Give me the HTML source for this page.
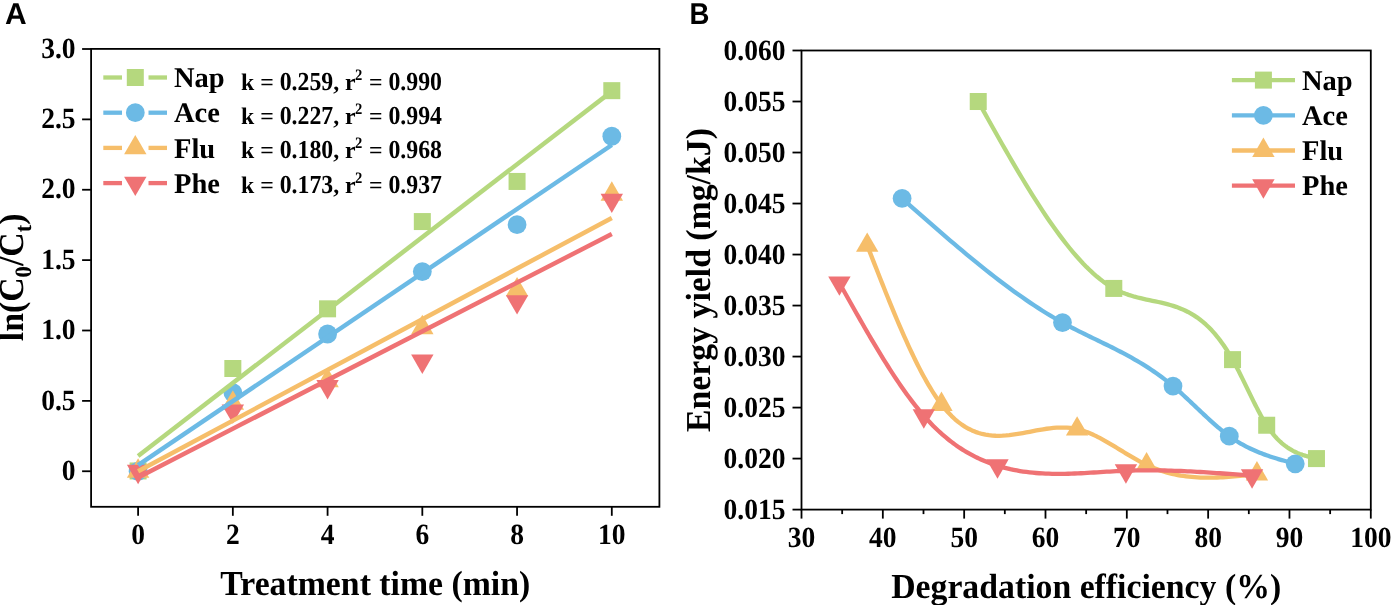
<!DOCTYPE html>
<html><head><meta charset="utf-8"><style>
html,body{margin:0;padding:0;background:#fff;}
svg{display:block;will-change:transform;}
text{text-rendering:geometricPrecision;}
</style></head><body>
<svg width="1391" height="605" viewBox="0 0 1391 605">
<rect width="1391" height="605" fill="#fff"/>
<text x="5" y="23.8" style="font-family:'Liberation Sans',sans-serif;font-weight:bold;font-size:30px">A</text>
<text transform="translate(689.5 23.8) scale(0.92 1)" style="font-family:'Liberation Sans',sans-serif;font-weight:bold;font-size:30px">B</text>
<rect x="129.60" y="462.47" width="17" height="17" fill="#B5D87E"/>
<rect x="224.34" y="360.00" width="17" height="17" fill="#B5D87E"/>
<rect x="319.08" y="300.32" width="17" height="17" fill="#B5D87E"/>
<rect x="413.82" y="213.06" width="17" height="17" fill="#B5D87E"/>
<rect x="508.56" y="172.95" width="17" height="17" fill="#B5D87E"/>
<rect x="603.30" y="82.16" width="17" height="17" fill="#B5D87E"/>
<circle cx="138.10" cy="471.25" r="9.4" fill="#6CBAE5"/>
<circle cx="232.84" cy="392.57" r="9.4" fill="#6CBAE5"/>
<circle cx="327.58" cy="334.02" r="9.4" fill="#6CBAE5"/>
<circle cx="422.32" cy="271.53" r="9.4" fill="#6CBAE5"/>
<circle cx="517.06" cy="224.66" r="9.4" fill="#6CBAE5"/>
<circle cx="611.80" cy="136.27" r="9.4" fill="#6CBAE5"/>
<path d="M138.10 458.32L149.30 477.72L126.90 477.72Z" fill="#F6BE6A"/>
<path d="M232.84 390.33L244.04 409.73L221.64 409.73Z" fill="#F6BE6A"/>
<path d="M327.58 367.81L338.78 387.21L316.38 387.21Z" fill="#F6BE6A"/>
<path d="M422.32 314.75L433.52 334.15L411.12 334.15Z" fill="#F6BE6A"/>
<path d="M517.06 276.89L528.26 296.29L505.86 296.29Z" fill="#F6BE6A"/>
<path d="M611.80 181.32L623.00 200.72L600.60 200.72Z" fill="#F6BE6A"/>
<path d="M126.90 464.78L149.30 464.78L138.10 484.18Z" fill="#EF7274"/>
<path d="M221.64 404.40L244.04 404.40L232.84 423.80Z" fill="#EF7274"/>
<path d="M316.38 380.05L338.78 380.05L327.58 399.45Z" fill="#EF7274"/>
<path d="M411.12 354.58L433.52 354.58L422.32 373.98Z" fill="#EF7274"/>
<path d="M505.86 295.18L528.26 295.18L517.06 314.58Z" fill="#EF7274"/>
<path d="M600.60 193.70L623.00 193.70L611.80 213.10Z" fill="#EF7274"/>
<line x1="138.10" y1="455.91" x2="611.80" y2="91.37" stroke="#B5D87E" stroke-width="4.5"/>
<line x1="138.10" y1="465.20" x2="611.80" y2="144.99" stroke="#6CBAE5" stroke-width="4.5"/>
<line x1="138.10" y1="471.25" x2="611.80" y2="217.90" stroke="#F6BE6A" stroke-width="4.5"/>
<line x1="138.10" y1="477.44" x2="611.80" y2="233.95" stroke="#EF7274" stroke-width="4.5"/>
<g style="font-family:'Liberation Serif',serif;font-weight:bold;font-size:28.5px"><rect x="91.1" y="48.9" width="568.30" height="457.90" fill="none" stroke="#000" stroke-width="1.8"/>
<line x1="138.10" y1="506.8" x2="138.10" y2="515.8" stroke="#000" stroke-width="1.8"/>
<text transform="translate(138.10 543.9) scale(0.965 1.03)" text-anchor="middle">0</text>
<line x1="232.84" y1="506.8" x2="232.84" y2="515.8" stroke="#000" stroke-width="1.8"/>
<text transform="translate(232.84 543.9) scale(0.965 1.03)" text-anchor="middle">2</text>
<line x1="327.58" y1="506.8" x2="327.58" y2="515.8" stroke="#000" stroke-width="1.8"/>
<text transform="translate(327.58 543.9) scale(0.965 1.03)" text-anchor="middle">4</text>
<line x1="422.32" y1="506.8" x2="422.32" y2="515.8" stroke="#000" stroke-width="1.8"/>
<text transform="translate(422.32 543.9) scale(0.965 1.03)" text-anchor="middle">6</text>
<line x1="517.06" y1="506.8" x2="517.06" y2="515.8" stroke="#000" stroke-width="1.8"/>
<text transform="translate(517.06 543.9) scale(0.965 1.03)" text-anchor="middle">8</text>
<line x1="611.80" y1="506.8" x2="611.80" y2="515.8" stroke="#000" stroke-width="1.8"/>
<text transform="translate(611.80 543.9) scale(0.965 1.03)" text-anchor="middle">10</text>
<line x1="82.1" y1="471.25" x2="91.1" y2="471.25" stroke="#000" stroke-width="1.8"/>
<text transform="translate(75.6 479.95) scale(0.965 1.03)" text-anchor="end">0</text>
<line x1="82.1" y1="400.88" x2="91.1" y2="400.88" stroke="#000" stroke-width="1.8"/>
<text transform="translate(75.6 409.57) scale(0.965 1.03)" text-anchor="end">0.5</text>
<line x1="82.1" y1="330.50" x2="91.1" y2="330.50" stroke="#000" stroke-width="1.8"/>
<text transform="translate(75.6 339.20) scale(0.965 1.03)" text-anchor="end">1.0</text>
<line x1="82.1" y1="260.12" x2="91.1" y2="260.12" stroke="#000" stroke-width="1.8"/>
<text transform="translate(75.6 268.82) scale(0.965 1.03)" text-anchor="end">1.5</text>
<line x1="82.1" y1="189.75" x2="91.1" y2="189.75" stroke="#000" stroke-width="1.8"/>
<text transform="translate(75.6 198.45) scale(0.965 1.03)" text-anchor="end">2.0</text>
<line x1="82.1" y1="119.38" x2="91.1" y2="119.38" stroke="#000" stroke-width="1.8"/>
<text transform="translate(75.6 128.07) scale(0.965 1.03)" text-anchor="end">2.5</text>
<line x1="82.1" y1="49.00" x2="91.1" y2="49.00" stroke="#000" stroke-width="1.8"/>
<text transform="translate(75.6 57.70) scale(0.965 1.03)" text-anchor="end">3.0</text></g>
<text transform="translate(375.25 595.0) scale(0.993 1.03)" text-anchor="middle" style="font-family:'Liberation Serif',serif;font-weight:bold;font-size:34px">Treatment time (min)</text>
<text transform="translate(23.1 277.35) rotate(-90) scale(0.993 1.03)" text-anchor="middle" style="font-family:'Liberation Serif',serif;font-weight:bold;font-size:34px">ln(C<tspan dy="7.5" font-size="22.8">0</tspan><tspan dy="-7.5">/C</tspan><tspan dy="7.5" font-size="22.8">t</tspan><tspan dy="-7.5">)</tspan></text>
<line x1="103.3" y1="77.5" x2="122" y2="77.5" stroke="#B5D87E" stroke-width="4.3"/>
<line x1="148.5" y1="77.5" x2="167" y2="77.5" stroke="#B5D87E" stroke-width="4.3"/>
<rect x="126.80" y="69.00" width="17" height="17" fill="#B5D87E"/>
<text x="174" y="87.20" style="font-family:'Liberation Serif',serif;font-weight:bold;font-size:28.5px">Nap</text>
<g style="font-family:'Liberation Serif',serif;font-weight:bold;font-size:23.8px"><text x="241" y="89.9">k =</text><text transform="translate(279.69 89.9) scale(1 1.09)">0.259</text><text x="333.23" y="89.9">, r</text><text transform="translate(354.9 79.9) scale(1 1.09)" font-size="14.6">2</text><text x="368.94" y="89.9">=</text><text transform="translate(388.45 89.9) scale(1 1.09)">0.990</text></g>
<line x1="103.3" y1="112.7" x2="122" y2="112.7" stroke="#6CBAE5" stroke-width="4.3"/>
<line x1="148.5" y1="112.7" x2="167" y2="112.7" stroke="#6CBAE5" stroke-width="4.3"/>
<circle cx="135.30" cy="112.70" r="9.4" fill="#6CBAE5"/>
<text x="174" y="122.40" style="font-family:'Liberation Serif',serif;font-weight:bold;font-size:28.5px">Ace</text>
<g style="font-family:'Liberation Serif',serif;font-weight:bold;font-size:23.8px"><text x="241" y="123.5">k =</text><text transform="translate(279.69 123.5) scale(1 1.09)">0.227</text><text x="333.23" y="123.5">, r</text><text transform="translate(354.9 113.5) scale(1 1.09)" font-size="14.6">2</text><text x="368.94" y="123.5">=</text><text transform="translate(388.45 123.5) scale(1 1.09)">0.994</text></g>
<line x1="103.3" y1="147.9" x2="122" y2="147.9" stroke="#F6BE6A" stroke-width="4.3"/>
<line x1="148.5" y1="147.9" x2="167" y2="147.9" stroke="#F6BE6A" stroke-width="4.3"/>
<path d="M135.30 134.97L146.50 154.37L124.10 154.37Z" fill="#F6BE6A"/>
<text x="174" y="157.60" style="font-family:'Liberation Serif',serif;font-weight:bold;font-size:28.5px">Flu</text>
<g style="font-family:'Liberation Serif',serif;font-weight:bold;font-size:23.8px"><text x="241" y="158.3">k =</text><text transform="translate(279.69 158.3) scale(1 1.09)">0.180</text><text x="333.23" y="158.3">, r</text><text transform="translate(354.9 148.3) scale(1 1.09)" font-size="14.6">2</text><text x="368.94" y="158.3">=</text><text transform="translate(388.45 158.3) scale(1 1.09)">0.968</text></g>
<line x1="103.3" y1="183.1" x2="122" y2="183.1" stroke="#EF7274" stroke-width="4.3"/>
<line x1="148.5" y1="183.1" x2="167" y2="183.1" stroke="#EF7274" stroke-width="4.3"/>
<path d="M124.10 176.63L146.50 176.63L135.30 196.03Z" fill="#EF7274"/>
<text x="174" y="192.80" style="font-family:'Liberation Serif',serif;font-weight:bold;font-size:28.5px">Phe</text>
<g style="font-family:'Liberation Serif',serif;font-weight:bold;font-size:23.8px"><text x="241" y="192.8">k =</text><text transform="translate(279.69 192.8) scale(1 1.09)">0.173</text><text x="333.23" y="192.8">, r</text><text transform="translate(354.9 182.8) scale(1 1.09)" font-size="14.6">2</text><text x="368.94" y="192.8">=</text><text transform="translate(388.45 192.8) scale(1 1.09)">0.937</text></g>
<path d="M978.23 101.51 L981.62 107.58 L985.01 113.65 L988.40 119.70 L991.78 125.74 L995.17 131.76 L998.56 137.75 L1001.95 143.71 L1005.34 149.64 L1008.73 155.52 L1012.12 161.35 L1015.51 167.13 L1018.90 172.86 L1022.29 178.52 L1025.68 184.11 L1029.07 189.63 L1032.46 195.07 L1035.85 200.43 L1039.24 205.70 L1042.62 210.87 L1046.01 215.95 L1049.40 220.92 L1052.79 225.77 L1056.18 230.52 L1059.57 235.14 L1062.96 239.64 L1066.35 244.00 L1069.74 248.23 L1073.13 252.32 L1076.52 256.26 L1079.91 260.05 L1083.30 263.68 L1086.69 267.15 L1090.08 270.45 L1093.47 273.58 L1096.85 276.53 L1100.24 279.29 L1103.63 281.87 L1107.02 284.25 L1110.41 286.44 L1113.80 288.42 L1116.77 289.98 L1119.74 291.39 L1122.71 292.67 L1125.68 293.83 L1128.64 294.88 L1131.61 295.82 L1134.58 296.69 L1137.55 297.48 L1140.52 298.21 L1143.49 298.89 L1146.46 299.53 L1149.42 300.16 L1152.39 300.77 L1155.36 301.39 L1158.33 302.02 L1161.30 302.68 L1164.27 303.38 L1167.23 304.14 L1170.20 304.96 L1173.17 305.85 L1176.14 306.84 L1179.11 307.93 L1182.08 309.14 L1185.05 310.48 L1188.01 311.96 L1190.98 313.59 L1193.95 315.39 L1196.92 317.36 L1199.89 319.53 L1202.86 321.90 L1205.82 324.49 L1208.79 327.31 L1211.76 330.37 L1214.73 333.69 L1217.70 337.27 L1220.67 341.13 L1223.64 345.29 L1226.60 349.74 L1229.57 354.52 L1232.54 359.63 L1233.40 361.16 L1234.25 362.72 L1235.10 364.30 L1235.96 365.91 L1236.81 367.54 L1237.67 369.18 L1238.52 370.85 L1239.37 372.53 L1240.23 374.23 L1241.08 375.94 L1241.93 377.67 L1242.79 379.40 L1243.64 381.14 L1244.50 382.89 L1245.35 384.64 L1246.20 386.40 L1247.06 388.16 L1247.91 389.92 L1248.77 391.67 L1249.62 393.43 L1250.47 395.18 L1251.33 396.92 L1252.18 398.65 L1253.04 400.37 L1253.89 402.09 L1254.74 403.78 L1255.60 405.47 L1256.45 407.13 L1257.31 408.78 L1258.16 410.41 L1259.01 412.02 L1259.87 413.60 L1260.72 415.16 L1261.58 416.69 L1262.43 418.19 L1263.28 419.67 L1264.14 421.11 L1264.99 422.52 L1265.85 423.89 L1266.70 425.23 L1267.98 427.15 L1269.25 429.00 L1270.53 430.76 L1271.80 432.44 L1273.08 434.05 L1274.36 435.58 L1275.63 437.04 L1276.91 438.43 L1278.19 439.75 L1279.46 441.00 L1280.74 442.19 L1282.01 443.32 L1283.29 444.39 L1284.57 445.40 L1285.84 446.36 L1287.12 447.27 L1288.40 448.12 L1289.67 448.93 L1290.95 449.69 L1292.22 450.41 L1293.50 451.08 L1294.78 451.71 L1296.05 452.31 L1297.33 452.88 L1298.61 453.40 L1299.88 453.90 L1301.16 454.37 L1302.43 454.82 L1303.71 455.24 L1304.99 455.64 L1306.26 456.01 L1307.54 456.37 L1308.82 456.72 L1310.09 457.05 L1311.37 457.37 L1312.64 457.68 L1313.92 457.99 L1315.20 458.29 L1316.47 458.59" fill="none" stroke="#B5D87E" stroke-width="4.3" stroke-linejoin="round"/>
<rect x="969.73" y="93.01" width="17" height="17" fill="#B5D87E"/>
<rect x="1105.30" y="279.92" width="17" height="17" fill="#B5D87E"/>
<rect x="1224.04" y="351.13" width="17" height="17" fill="#B5D87E"/>
<rect x="1258.20" y="416.73" width="17" height="17" fill="#B5D87E"/>
<rect x="1307.97" y="450.09" width="17" height="17" fill="#B5D87E"/>
<path d="M902.10 198.43 L906.11 201.98 L910.12 205.52 L914.13 209.06 L918.14 212.60 L922.15 216.13 L926.16 219.65 L930.17 223.16 L934.18 226.66 L938.19 230.15 L942.20 233.62 L946.21 237.07 L950.22 240.51 L954.23 243.92 L958.24 247.32 L962.25 250.69 L966.26 254.04 L970.26 257.36 L974.27 260.65 L978.28 263.91 L982.29 267.14 L986.30 270.34 L990.31 273.50 L994.32 276.63 L998.33 279.72 L1002.34 282.77 L1006.35 285.77 L1010.36 288.74 L1014.37 291.66 L1018.38 294.53 L1022.39 297.36 L1026.40 300.13 L1030.41 302.85 L1034.42 305.52 L1038.43 308.14 L1042.44 310.70 L1046.45 313.20 L1050.45 315.64 L1054.46 318.02 L1058.47 320.34 L1062.48 322.59 L1065.25 324.11 L1068.01 325.59 L1070.77 327.05 L1073.54 328.49 L1076.30 329.90 L1079.06 331.30 L1081.83 332.68 L1084.59 334.04 L1087.35 335.40 L1090.11 336.75 L1092.88 338.09 L1095.64 339.43 L1098.40 340.76 L1101.17 342.10 L1103.93 343.45 L1106.69 344.80 L1109.46 346.16 L1112.22 347.53 L1114.98 348.92 L1117.75 350.32 L1120.51 351.75 L1123.27 353.20 L1126.04 354.67 L1128.80 356.17 L1131.56 357.70 L1134.32 359.27 L1137.09 360.86 L1139.85 362.50 L1142.61 364.18 L1145.38 365.90 L1148.14 367.67 L1150.90 369.48 L1153.67 371.35 L1156.43 373.27 L1159.19 375.24 L1161.96 377.28 L1164.72 379.37 L1167.48 381.53 L1170.25 383.76 L1173.01 386.05 L1174.42 387.25 L1175.82 388.46 L1177.23 389.69 L1178.64 390.93 L1180.04 392.19 L1181.45 393.46 L1182.86 394.74 L1184.26 396.04 L1185.67 397.34 L1187.08 398.65 L1188.49 399.97 L1189.89 401.29 L1191.30 402.62 L1192.71 403.95 L1194.11 405.29 L1195.52 406.62 L1196.93 407.96 L1198.33 409.29 L1199.74 410.63 L1201.15 411.96 L1202.56 413.28 L1203.96 414.61 L1205.37 415.92 L1206.78 417.23 L1208.18 418.52 L1209.59 419.81 L1211.00 421.09 L1212.40 422.35 L1213.81 423.60 L1215.22 424.84 L1216.63 426.06 L1218.03 427.26 L1219.44 428.45 L1220.85 429.61 L1222.25 430.76 L1223.66 431.88 L1225.07 432.99 L1226.47 434.06 L1227.88 435.12 L1229.29 436.14 L1230.98 437.34 L1232.67 438.50 L1234.36 439.63 L1236.05 440.72 L1237.74 441.77 L1239.44 442.79 L1241.13 443.77 L1242.82 444.73 L1244.51 445.65 L1246.20 446.54 L1247.89 447.40 L1249.58 448.24 L1251.27 449.04 L1252.97 449.82 L1254.66 450.58 L1256.35 451.31 L1258.04 452.02 L1259.73 452.71 L1261.42 453.37 L1263.11 454.02 L1264.80 454.64 L1266.50 455.25 L1268.19 455.84 L1269.88 456.42 L1271.57 456.98 L1273.26 457.52 L1274.95 458.05 L1276.64 458.57 L1278.33 459.08 L1280.02 459.58 L1281.72 460.07 L1283.41 460.56 L1285.10 461.03 L1286.79 461.50 L1288.48 461.97 L1290.17 462.43 L1291.86 462.88 L1293.55 463.34 L1295.25 463.79" fill="none" stroke="#6CBAE5" stroke-width="4.3" stroke-linejoin="round"/>
<circle cx="902.10" cy="198.43" r="9.4" fill="#6CBAE5"/>
<circle cx="1062.48" cy="322.59" r="9.4" fill="#6CBAE5"/>
<circle cx="1173.01" cy="386.05" r="9.4" fill="#6CBAE5"/>
<circle cx="1229.29" cy="436.14" r="9.4" fill="#6CBAE5"/>
<circle cx="1295.25" cy="463.79" r="9.4" fill="#6CBAE5"/>
<path d="M867.21 245.36 L869.07 250.12 L870.93 254.87 L872.78 259.62 L874.64 264.35 L876.50 269.08 L878.35 273.79 L880.21 278.49 L882.06 283.16 L883.92 287.81 L885.78 292.44 L887.63 297.03 L889.49 301.59 L891.35 306.12 L893.20 310.61 L895.06 315.06 L896.91 319.47 L898.77 323.83 L900.63 328.14 L902.48 332.39 L904.34 336.59 L906.20 340.74 L908.05 344.82 L909.91 348.84 L911.77 352.79 L913.62 356.67 L915.48 360.48 L917.33 364.21 L919.19 367.87 L921.05 371.44 L922.90 374.93 L924.76 378.33 L926.62 381.64 L928.47 384.85 L930.33 387.97 L932.18 391.00 L934.04 393.92 L935.90 396.73 L937.75 399.44 L939.61 402.03 L941.47 404.52 L944.86 408.76 L948.25 412.62 L951.64 416.12 L955.03 419.28 L958.42 422.12 L961.81 424.63 L965.21 426.85 L968.60 428.78 L971.99 430.44 L975.38 431.85 L978.77 433.01 L982.16 433.95 L985.55 434.68 L988.95 435.22 L992.34 435.57 L995.73 435.76 L999.12 435.79 L1002.51 435.69 L1005.90 435.47 L1009.29 435.14 L1012.69 434.72 L1016.08 434.23 L1019.47 433.67 L1022.86 433.06 L1026.25 432.42 L1029.64 431.77 L1033.03 431.11 L1036.43 430.47 L1039.82 429.85 L1043.21 429.27 L1046.60 428.75 L1049.99 428.31 L1053.38 427.95 L1056.77 427.69 L1060.17 427.55 L1063.56 427.54 L1066.95 427.67 L1070.34 427.97 L1073.73 428.44 L1077.12 429.10 L1078.86 429.52 L1080.60 429.99 L1082.33 430.51 L1084.07 431.08 L1085.80 431.69 L1087.54 432.34 L1089.28 433.04 L1091.01 433.77 L1092.75 434.55 L1094.49 435.35 L1096.22 436.19 L1097.96 437.06 L1099.70 437.96 L1101.43 438.88 L1103.17 439.83 L1104.90 440.79 L1106.64 441.78 L1108.38 442.79 L1110.11 443.81 L1111.85 444.84 L1113.59 445.88 L1115.32 446.93 L1117.06 447.99 L1118.80 449.06 L1120.53 450.12 L1122.27 451.19 L1124.00 452.25 L1125.74 453.31 L1127.48 454.37 L1129.21 455.41 L1130.95 456.44 L1132.69 457.47 L1134.42 458.47 L1136.16 459.46 L1137.90 460.43 L1139.63 461.38 L1141.37 462.30 L1143.10 463.20 L1144.84 464.07 L1146.58 464.91 L1149.41 466.22 L1152.24 467.44 L1155.07 468.57 L1157.90 469.63 L1160.73 470.62 L1163.56 471.52 L1166.39 472.36 L1169.22 473.12 L1172.05 473.82 L1174.88 474.45 L1177.71 475.02 L1180.53 475.53 L1183.36 475.97 L1186.19 476.36 L1189.02 476.70 L1191.85 476.98 L1194.68 477.21 L1197.51 477.40 L1200.34 477.53 L1203.17 477.63 L1206.00 477.68 L1208.83 477.69 L1211.66 477.67 L1214.49 477.61 L1217.32 477.52 L1220.15 477.39 L1222.98 477.24 L1225.81 477.06 L1228.64 476.86 L1231.47 476.64 L1234.30 476.39 L1237.13 476.13 L1239.96 475.85 L1242.79 475.56 L1245.62 475.26 L1248.45 474.95 L1251.28 474.64 L1254.11 474.32 L1256.94 473.99" fill="none" stroke="#F6BE6A" stroke-width="4.3" stroke-linejoin="round"/>
<path d="M867.21 232.43L878.41 251.83L856.01 251.83Z" fill="#F6BE6A"/>
<path d="M941.47 391.58L952.67 410.98L930.27 410.98Z" fill="#F6BE6A"/>
<path d="M1077.12 416.17L1088.32 435.57L1065.92 435.57Z" fill="#F6BE6A"/>
<path d="M1146.58 451.98L1157.78 471.38L1135.38 471.38Z" fill="#F6BE6A"/>
<path d="M1256.94 461.06L1268.14 480.46L1245.74 480.46Z" fill="#F6BE6A"/>
<path d="M839.40 282.91 L841.51 286.68 L843.62 290.45 L845.73 294.22 L847.84 297.99 L849.95 301.74 L852.06 305.49 L854.17 309.23 L856.28 312.96 L858.39 316.67 L860.50 320.37 L862.61 324.05 L864.72 327.71 L866.84 331.35 L868.95 334.97 L871.06 338.57 L873.17 342.14 L875.28 345.68 L877.39 349.20 L879.50 352.68 L881.61 356.13 L883.72 359.55 L885.83 362.93 L887.94 366.27 L890.05 369.58 L892.16 372.84 L894.27 376.06 L896.38 379.24 L898.49 382.37 L900.60 385.45 L902.71 388.49 L904.82 391.47 L906.93 394.40 L909.04 397.28 L911.16 400.10 L913.27 402.86 L915.38 405.56 L917.49 408.20 L919.60 410.78 L921.71 413.29 L923.82 415.74 L925.66 417.82 L927.50 419.85 L929.34 421.83 L931.19 423.76 L933.03 425.64 L934.87 427.47 L936.71 429.25 L938.55 430.99 L940.40 432.68 L942.24 434.32 L944.08 435.92 L945.92 437.48 L947.77 438.99 L949.61 440.45 L951.45 441.88 L953.29 443.26 L955.13 444.61 L956.98 445.91 L958.82 447.17 L960.66 448.40 L962.50 449.58 L964.34 450.73 L966.19 451.84 L968.03 452.92 L969.87 453.95 L971.71 454.96 L973.55 455.93 L975.40 456.87 L977.24 457.77 L979.08 458.64 L980.92 459.48 L982.77 460.29 L984.61 461.07 L986.45 461.82 L988.29 462.54 L990.13 463.23 L991.98 463.89 L993.82 464.53 L995.66 465.14 L997.50 465.73 L1000.71 466.69 L1003.92 467.58 L1007.13 468.40 L1010.34 469.16 L1013.55 469.84 L1016.76 470.46 L1019.97 471.03 L1023.19 471.53 L1026.40 471.98 L1029.61 472.37 L1032.82 472.71 L1036.03 473.00 L1039.24 473.25 L1042.45 473.45 L1045.66 473.60 L1048.87 473.72 L1052.08 473.80 L1055.29 473.85 L1058.50 473.86 L1061.71 473.84 L1064.92 473.80 L1068.13 473.73 L1071.34 473.63 L1074.55 473.52 L1077.76 473.38 L1080.97 473.23 L1084.18 473.07 L1087.39 472.89 L1090.60 472.70 L1093.82 472.51 L1097.03 472.31 L1100.24 472.12 L1103.45 471.92 L1106.66 471.72 L1109.87 471.53 L1113.08 471.35 L1116.29 471.17 L1119.50 471.01 L1122.71 470.86 L1125.92 470.73 L1129.15 470.62 L1132.39 470.52 L1135.62 470.44 L1138.86 470.39 L1142.09 470.35 L1145.33 470.32 L1148.56 470.31 L1151.79 470.32 L1155.03 470.34 L1158.26 470.38 L1161.50 470.43 L1164.73 470.50 L1167.97 470.58 L1171.20 470.67 L1174.44 470.78 L1177.67 470.90 L1180.90 471.02 L1184.14 471.16 L1187.37 471.31 L1190.61 471.47 L1193.84 471.64 L1197.08 471.82 L1200.31 472.01 L1203.54 472.20 L1206.78 472.40 L1210.01 472.61 L1213.25 472.83 L1216.48 473.05 L1219.72 473.27 L1222.95 473.50 L1226.19 473.74 L1229.42 473.98 L1232.65 474.22 L1235.89 474.47 L1239.12 474.72 L1242.36 474.97 L1245.59 475.22 L1248.83 475.47 L1252.06 475.73" fill="none" stroke="#EF7274" stroke-width="4.3" stroke-linejoin="round"/>
<path d="M828.20 276.44L850.60 276.44L839.40 295.84Z" fill="#EF7274"/>
<path d="M912.62 409.27L935.02 409.27L923.82 428.67Z" fill="#EF7274"/>
<path d="M986.30 459.26L1008.70 459.26L997.50 478.66Z" fill="#EF7274"/>
<path d="M1114.72 464.26L1137.12 464.26L1125.92 483.66Z" fill="#EF7274"/>
<path d="M1240.86 469.26L1263.26 469.26L1252.06 488.66Z" fill="#EF7274"/>
<g style="font-family:'Liberation Serif',serif;font-weight:bold;font-size:28.5px"><rect x="801.5" y="50.5" width="569.30" height="459.10" fill="none" stroke="#000" stroke-width="1.8"/>
<line x1="801.50" y1="509.6" x2="801.50" y2="518.6" stroke="#000" stroke-width="1.8"/>
<text transform="translate(801.50 547.3) scale(0.965 1.03)" text-anchor="middle">30</text>
<line x1="842.16" y1="509.6" x2="842.16" y2="514.1" stroke="#000" stroke-width="1.8"/>
<line x1="882.83" y1="509.6" x2="882.83" y2="518.6" stroke="#000" stroke-width="1.8"/>
<text transform="translate(882.83 547.3) scale(0.965 1.03)" text-anchor="middle">40</text>
<line x1="923.49" y1="509.6" x2="923.49" y2="514.1" stroke="#000" stroke-width="1.8"/>
<line x1="964.16" y1="509.6" x2="964.16" y2="518.6" stroke="#000" stroke-width="1.8"/>
<text transform="translate(964.16 547.3) scale(0.965 1.03)" text-anchor="middle">50</text>
<line x1="1004.82" y1="509.6" x2="1004.82" y2="514.1" stroke="#000" stroke-width="1.8"/>
<line x1="1045.49" y1="509.6" x2="1045.49" y2="518.6" stroke="#000" stroke-width="1.8"/>
<text transform="translate(1045.49 547.3) scale(0.965 1.03)" text-anchor="middle">60</text>
<line x1="1086.15" y1="509.6" x2="1086.15" y2="514.1" stroke="#000" stroke-width="1.8"/>
<line x1="1126.81" y1="509.6" x2="1126.81" y2="518.6" stroke="#000" stroke-width="1.8"/>
<text transform="translate(1126.81 547.3) scale(0.965 1.03)" text-anchor="middle">70</text>
<line x1="1167.48" y1="509.6" x2="1167.48" y2="514.1" stroke="#000" stroke-width="1.8"/>
<line x1="1208.14" y1="509.6" x2="1208.14" y2="518.6" stroke="#000" stroke-width="1.8"/>
<text transform="translate(1208.14 547.3) scale(0.965 1.03)" text-anchor="middle">80</text>
<line x1="1248.81" y1="509.6" x2="1248.81" y2="514.1" stroke="#000" stroke-width="1.8"/>
<line x1="1289.47" y1="509.6" x2="1289.47" y2="518.6" stroke="#000" stroke-width="1.8"/>
<text transform="translate(1289.47 547.3) scale(0.965 1.03)" text-anchor="middle">90</text>
<line x1="1330.14" y1="509.6" x2="1330.14" y2="514.1" stroke="#000" stroke-width="1.8"/>
<line x1="1370.80" y1="509.6" x2="1370.80" y2="518.6" stroke="#000" stroke-width="1.8"/>
<text transform="translate(1370.80 547.3) scale(0.965 1.03)" text-anchor="middle">100</text>
<line x1="792.5" y1="509.60" x2="801.5" y2="509.60" stroke="#000" stroke-width="1.8"/>
<text transform="translate(785.4 518.60) scale(0.965 1.03)" text-anchor="end">0.015</text>
<line x1="792.5" y1="458.59" x2="801.5" y2="458.59" stroke="#000" stroke-width="1.8"/>
<text transform="translate(785.4 467.59) scale(0.965 1.03)" text-anchor="end">0.020</text>
<line x1="792.5" y1="407.58" x2="801.5" y2="407.58" stroke="#000" stroke-width="1.8"/>
<text transform="translate(785.4 416.58) scale(0.965 1.03)" text-anchor="end">0.025</text>
<line x1="792.5" y1="356.57" x2="801.5" y2="356.57" stroke="#000" stroke-width="1.8"/>
<text transform="translate(785.4 365.57) scale(0.965 1.03)" text-anchor="end">0.030</text>
<line x1="792.5" y1="305.56" x2="801.5" y2="305.56" stroke="#000" stroke-width="1.8"/>
<text transform="translate(785.4 314.56) scale(0.965 1.03)" text-anchor="end">0.035</text>
<line x1="792.5" y1="254.54" x2="801.5" y2="254.54" stroke="#000" stroke-width="1.8"/>
<text transform="translate(785.4 263.54) scale(0.965 1.03)" text-anchor="end">0.040</text>
<line x1="792.5" y1="203.53" x2="801.5" y2="203.53" stroke="#000" stroke-width="1.8"/>
<text transform="translate(785.4 212.53) scale(0.965 1.03)" text-anchor="end">0.045</text>
<line x1="792.5" y1="152.52" x2="801.5" y2="152.52" stroke="#000" stroke-width="1.8"/>
<text transform="translate(785.4 161.52) scale(0.965 1.03)" text-anchor="end">0.050</text>
<line x1="792.5" y1="101.51" x2="801.5" y2="101.51" stroke="#000" stroke-width="1.8"/>
<text transform="translate(785.4 110.51) scale(0.965 1.03)" text-anchor="end">0.055</text>
<line x1="792.5" y1="50.50" x2="801.5" y2="50.50" stroke="#000" stroke-width="1.8"/>
<text transform="translate(785.4 59.50) scale(0.965 1.03)" text-anchor="end">0.060</text></g>
<text transform="translate(1086.15 597.7) scale(0.993 1.03)" text-anchor="middle" style="font-family:'Liberation Serif',serif;font-weight:bold;font-size:34px">Degradation efficiency (%)</text>
<text transform="translate(710 280.05) rotate(-90) scale(0.993 1.03)" text-anchor="middle" style="font-family:'Liberation Serif',serif;font-weight:bold;font-size:34px">Energy yield (mg/kJ)</text>
<line x1="1231.9" y1="80.1" x2="1295" y2="80.1" stroke="#B5D87E" stroke-width="4.3"/>
<rect x="1254.90" y="71.60" width="17" height="17" fill="#B5D87E"/>
<text x="1302" y="89.80" style="font-family:'Liberation Serif',serif;font-weight:bold;font-size:28.5px">Nap</text>
<line x1="1231.9" y1="115.3" x2="1295" y2="115.3" stroke="#6CBAE5" stroke-width="4.3"/>
<circle cx="1263.40" cy="115.30" r="9.4" fill="#6CBAE5"/>
<text x="1302" y="125.00" style="font-family:'Liberation Serif',serif;font-weight:bold;font-size:28.5px">Ace</text>
<line x1="1231.9" y1="150.5" x2="1295" y2="150.5" stroke="#F6BE6A" stroke-width="4.3"/>
<path d="M1263.40 137.57L1274.60 156.97L1252.20 156.97Z" fill="#F6BE6A"/>
<text x="1302" y="160.20" style="font-family:'Liberation Serif',serif;font-weight:bold;font-size:28.5px">Flu</text>
<line x1="1231.9" y1="185.7" x2="1295" y2="185.7" stroke="#EF7274" stroke-width="4.3"/>
<path d="M1252.20 179.23L1274.60 179.23L1263.40 198.63Z" fill="#EF7274"/>
<text x="1302" y="195.40" style="font-family:'Liberation Serif',serif;font-weight:bold;font-size:28.5px">Phe</text>
</svg>
</body></html>
